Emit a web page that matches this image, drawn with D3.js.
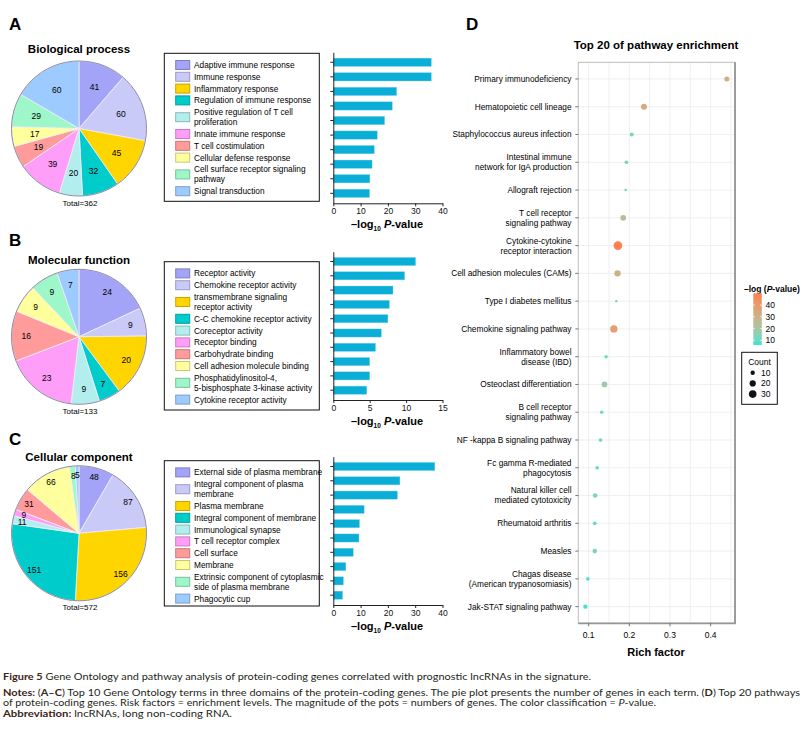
<!DOCTYPE html>
<html lang="en">
<head>
<meta charset="UTF-8">
<title>Figure 5 - GO and pathway enrichment</title>
<script src="https://d3js.org/d3.v7.min.js"></script>
<style>
  body { margin: 0; background: #fff; }
  svg { font-family: "Liberation Sans", Arial, sans-serif; }
  .axis path, .axis line { stroke: #222; }
  .axis text { font-size: 8.5px; fill: #111; }
</style>
</head>
<body>
<svg id="fig" width="807" height="732"></svg>
<script>
// ---- GO data: legend order = bar order = pie order (clockwise from 12 o'clock)
const goColors = ["#a3a3f7", "#cacaf9", "#ffd500", "#00cccc", "#b3eeee",
                  "#ff9ef8", "#ff9b9b", "#ffff9e", "#9ef7c8", "#9ecbff"];

const bpTerms = ["Adaptive immune response", "Immune response", "Inflammatory response",
  "Regulation of immune response", "Positive regulation of T cell\nproliferation",
  "Innate immune response", "T cell costimulation", "Cellular defense response",
  "Cell surface receptor signaling\npathway", "Signal transduction"];
const bpCounts = [41, 60, 45, 32, 20, 39, 19, 17, 29, 60];
const bpLogP = [35.9, 35.9, 23.2, 21.6, 18.8, 16.1, 15.0, 14.2, 13.4, 13.3];

const mfTerms = ["Receptor activity", "Chemokine receptor activity",
  "transmembrane signaling\nreceptor activity", "C-C chemokine receptor activity",
  "Coreceptor activity", "Receptor binding", "Carbohydrate binding",
  "Cell adhesion molecule binding", "Phosphatidylinositol-4,\n5-bisphosphate 3-kinase activity",
  "Cytokine receptor activity"];
const mfCounts = [24, 9, 20, 7, 9, 23, 16, 9, 9, 7];
const mfLogP = [11.3, 9.8, 8.2, 7.7, 7.5, 6.6, 5.8, 5.0, 5.0, 4.6];

const ccTerms = ["External side of plasma membrane", "Integral component of plasma\nmembrane",
  "Plasma membrane", "Integral component of membrane", "Immunological synapse",
  "T cell receptor complex", "Cell surface", "Membrane",
  "Extrinsic component of cytoplasmic\nside of plasma membrane", "Phagocytic cup"];
const ccCounts = [48, 87, 156, 151, 11, 9, 31, 66, 8, 5];
const ccLogP = [37.2, 24.4, 23.5, 11.3, 9.6, 9.4, 7.3, 4.6, 3.7, 3.4];

// ---- KEGG data
const pathways = ["Primary immunodeficiency", "Hematopoietic cell lineage",
  "Staphylococcus aureus infection", "Intestinal immune\nnetwork for IgA production",
  "Allograft rejection", "T cell receptor\nsignaling pathway",
  "Cytokine-cytokine\nreceptor interaction", "Cell adhesion molecules (CAMs)",
  "Type I diabetes mellitus", "Chemokine signaling pathway",
  "Inflammatory bowel\ndisease (IBD)", "Osteoclast differentiation",
  "B cell receptor\nsignaling pathway", "NF -kappa B signaling pathway",
  "Fc gamma R-mediated\nphagocytosis", "Natural killer cell\nmediated cytotoxicity",
  "Rheumatoid arthritis", "Measles", "Chagas disease\n(American trypanosomiasis)",
  "Jak-STAT signaling pathway"];
const richFactor = [0.440, 0.236, 0.206, 0.193, 0.191, 0.185, 0.172, 0.171, 0.168, 0.162,
                    0.143, 0.139, 0.132, 0.129, 0.121, 0.116, 0.115, 0.115, 0.098, 0.092];
const geneCount = [13, 19, 8, 7, 3, 17, 39, 21, 3, 28, 6, 17, 6, 7, 7, 11, 7, 11, 7, 10];
const negLogP = [32, 33, 13, 11, 9, 25, 50, 30, 8, 38, 10, 18, 9, 10, 9, 12, 9, 13, 8, 7];

const richTicks = [0.1, 0.2, 0.3, 0.4];
const colorTicks = [10, 20, 30, 40];
const countTicks = [10, 20, 30];

const svg = d3.select("#fig");
svg.append("rect").attr("width", 807).attr("height", 732).attr("fill", "#fff");

// ---------- GO panels ----------
function goPanel(o) {
  const g = svg.append("g");
  // panel letter + title
  g.append("text").attr("x", 9).attr("y", o.letterY).text(o.letter)
    .attr("font-size", 17).attr("font-weight", "bold");
  g.append("text").attr("x", 79).attr("y", o.titleY).attr("text-anchor", "middle")
    .attr("font-size", 11.5).attr("font-weight", "bold").text(o.title);

  // pie
  const r = 67.5;
  const pie = d3.pie().sort(null)(o.counts);
  const arc = d3.arc().innerRadius(0).outerRadius(r);
  const lab = d3.arc().innerRadius(r * o.labR).outerRadius(r * o.labR);
  const pg = g.append("g").attr("transform", `translate(79,${o.cy})`);
  pg.selectAll("path").data(pie).join("path")
    .attr("d", arc).attr("fill", (d, i) => goColors[i])
    .attr("stroke", "#f2eef8").attr("stroke-width", 0.8);
  pg.append("circle").attr("r", r).attr("fill", "none")
    .attr("stroke", "#8d8da6").attr("stroke-width", 1);
  pg.selectAll("text").data(pie).join("text")
    .attr("transform", d => `translate(${lab.centroid(d)})`)
    .attr("text-anchor", "middle").attr("dy", "0.35em")
    .attr("font-size", 8.5).text(d => d.data);
  g.append("text").attr("x", 80).attr("y", o.cy + r + 9.5).attr("text-anchor", "middle")
    .attr("font-size", 8).text("Total=" + d3.sum(o.counts));

  // legend
  g.append("rect").attr("x", 164.3).attr("y", o.legTop).attr("width", 155)
    .attr("height", o.legH).attr("fill", "#fff").attr("stroke", "#111").attr("stroke-width", 1);
  let cur = o.legTop + 11.7;
  o.terms.forEach((t, i) => {
    const lines = t.split("\n");
    const mid = cur + (lines.length - 1) * 5;
    g.append("rect").attr("x", 175.7).attr("y", mid - 4.5).attr("width", 14).attr("height", 9)
      .attr("fill", goColors[i]).attr("stroke", d3.color(goColors[i]).darker(0.7))
      .attr("stroke-width", 1);
    const tx = g.append("text").attr("x", 194).attr("font-size", 8.3);
    lines.forEach((l, k) => tx.append("tspan").attr("x", 194)
      .attr("y", cur + k * 10).attr("dy", "0.35em").text(l));
    cur += (lines.length - 1) * 10 + 11.8;
  });

  // bars
  const x = d3.scaleLinear().domain([0, o.xMax]).range([333.3, 442.5]);
  const y = d3.scaleBand().domain(d3.range(o.vals.length))
    .range([o.barTop, o.barBot]).paddingInner(0.43).paddingOuter(0.4);
  g.selectAll(".bar" + o.letter).data(o.vals).join("rect")
    .attr("x", x(0)).attr("y", (d, i) => y(i)).attr("width", d => x(d) - x(0))
    .attr("height", y.bandwidth()).attr("fill", "#0aaed6")
    .attr("stroke", "#7fd4ea").attr("stroke-width", 0.4);
  g.append("g").attr("class", "axis").attr("transform", `translate(${x(0)},0)`)
    .call(d3.axisLeft(y).tickSize(3).tickSizeOuter(0).tickFormat(""));
  g.append("g").attr("class", "axis").attr("transform", `translate(0,${o.barBot})`)
    .call(d3.axisBottom(x).tickValues(o.xTicks).tickSize(3).tickSizeOuter(0).tickPadding(2));
  const xl = g.append("text").attr("x", 387).attr("y", o.barBot + 25)
    .attr("text-anchor", "middle").attr("font-size", 11).attr("font-weight", "bold");
  xl.append("tspan").text("\u2013log");
  xl.append("tspan").attr("font-size", 6.5).attr("dy", 3).text("10");
  xl.append("tspan").attr("dy", -3).text(" ");
  xl.append("tspan").attr("font-style", "italic").text("P");
  xl.append("tspan").text("-value");
}

goPanel({ letter: "A", letterY: 30, title: "Biological process", titleY: 53.3, cy: 128.5,
  counts: bpCounts, terms: bpTerms, vals: bpLogP, labR: 0.66,
  legTop: 53.3, legH: 148, barTop: 52.3, barBot: 203.3, xMax: 40, xTicks: [0, 10, 20, 30, 40] });
goPanel({ letter: "B", letterY: 245.5, title: "Molecular function", titleY: 264, cy: 336.8,
  counts: mfCounts, terms: mfTerms, vals: mfLogP, labR: 0.78,
  legTop: 261.7, legH: 148.3, barTop: 251.7, barBot: 400, xMax: 15, xTicks: [0, 5, 10, 15] });
goPanel({ letter: "C", letterY: 445, title: "Cellular component", titleY: 460.5, cy: 533.3,
  counts: ccCounts, terms: ccTerms, vals: ccLogP, labR: 0.86,
  legTop: 460.7, legH: 145.3, barTop: 456.7, barBot: 605, xMax: 40, xTicks: [0, 10, 20, 30, 40] });

// ---------- Panel D: KEGG bubble plot ----------
const D = svg.append("g");
D.append("text").attr("x", 466).attr("y", 30).attr("font-size", 17)
  .attr("font-weight", "bold").text("D");
D.append("text").attr("x", 656).attr("y", 49).attr("text-anchor", "middle")
  .attr("font-size", 11.5).attr("font-weight", "bold").text("Top 20 of pathway enrichment");

const px0 = 578.3, px1 = 735, py0 = 62.3, py1 = 623.3;
const xr = d3.scaleLinear().domain([0.0745, 0.46]).range([px0, px1]);
const yr = d3.scalePoint().domain(pathways).range([py0, py1]).padding(0.6);
const rr = d3.scaleSqrt().domain([0, 30]).range([0, 3.8]);
const col = d3.scaleLinear().domain([6, 50]).range(["#40E0D0", "#FF7F50"])
  .interpolate(d3.interpolateLab);

// grid
const minor = d3.range(0.1, 0.46, 0.05);
D.selectAll(".vg").data(minor).join("line")
  .attr("x1", d => xr(d)).attr("x2", d => xr(d)).attr("y1", py0).attr("y2", py1)
  .attr("stroke", "#ebebeb").attr("stroke-width", 0.8);
D.selectAll(".hg").data(pathways).join("line")
  .attr("x1", px0).attr("x2", px1).attr("y1", d => yr(d)).attr("y2", d => yr(d))
  .attr("stroke", "#ebebeb").attr("stroke-width", 0.8);
D.append("rect").attr("x", px0).attr("y", py0).attr("width", px1 - px0).attr("height", py1 - py0)
  .attr("fill", "none").attr("stroke", "#bdbdbd").attr("stroke-width", 1);
D.append("path").attr("d", `M${px1},${py0}V${py1}H${px0}`).attr("fill", "none")
  .attr("stroke", "#959595").attr("stroke-width", 1.8);

// y labels & ticks
pathways.forEach(p => {
  const yy = yr(p);
  D.append("line").attr("x1", px0 - 3).attr("x2", px0).attr("y1", yy).attr("y2", yy)
    .attr("stroke", "#555").attr("stroke-width", 0.8);
  const lines = p.split("\n");
  const t = D.append("text").attr("text-anchor", "end").attr("font-size", 8.3);
  lines.forEach((l, k) => t.append("tspan").attr("x", 571.5)
    .attr("y", yy + (k - (lines.length - 1) / 2) * 10).attr("dy", "0.35em").text(l));
});
// x ticks
richTicks.forEach(v => {
  D.append("line").attr("x1", xr(v)).attr("x2", xr(v)).attr("y1", py1).attr("y2", py1 + 3)
    .attr("stroke", "#555").attr("stroke-width", 0.8);
  D.append("text").attr("x", xr(v)).attr("y", 635).attr("dy", "0.35em")
    .attr("text-anchor", "middle").attr("font-size", 8.5).text(v.toFixed(1));
});
D.append("text").attr("x", 656).attr("y", 655.5).attr("text-anchor", "middle")
  .attr("font-size", 11).attr("font-weight", "bold").text("Rich factor");

// points
D.selectAll(".pt").data(pathways).join("circle")
  .attr("cx", (d, i) => xr(richFactor[i])).attr("cy", d => yr(d))
  .attr("r", (d, i) => rr(geneCount[i])).attr("fill", (d, i) => col(negLogP[i]));

// colour legend
const ct = D.append("text").attr("x", 744).attr("y", 291.5).attr("font-size", 8.5)
  .attr("font-weight", "bold");
ct.append("tspan").text("\u2013log (");
ct.append("tspan").attr("font-style", "italic").text("P");
ct.append("tspan").text("-value)");
const cy = d3.scaleLinear().domain([6, 50]).range([345, 293.3]);
const grad = svg.append("defs").append("linearGradient").attr("id", "cbar")
  .attr("x1", 0).attr("x2", 0).attr("y1", 1).attr("y2", 0);
d3.range(0, 1.0001, 0.1).forEach(f => grad.append("stop")
  .attr("offset", f).attr("stop-color", col(6 + f * 44)));
D.append("rect").attr("x", 753.3).attr("y", 293.3).attr("width", 8.5).attr("height", 345 - 293.3)
  .attr("fill", "url(#cbar)");
colorTicks.forEach(v => {
  [753.3, 760.1].forEach(xx => D.append("line").attr("x1", xx).attr("x2", xx + 1.7)
    .attr("y1", cy(v)).attr("y2", cy(v)).attr("stroke", "#fff").attr("stroke-width", 0.7));
  D.append("text").attr("x", 765.5).attr("y", cy(v)).attr("dy", "0.35em")
    .attr("font-size", 8.5).text(v);
});

// size legend
D.append("rect").attr("x", 741.7).attr("y", 352.3).attr("width", 35.6).attr("height", 52)
  .attr("fill", "#fff").attr("stroke", "#111").attr("stroke-width", 1);
D.append("text").attr("x", 759.5).attr("y", 362.3).attr("dy", "0.35em")
  .attr("text-anchor", "middle").attr("font-size", 8.5).text("Count");
countTicks.forEach((v, i) => {
  const yy = 372.7 + i * 10.7;
  D.append("circle").attr("cx", 752.7).attr("cy", yy).attr("r", rr(v)).attr("fill", "#111");
  D.append("text").attr("x", 761).attr("y", yy).attr("dy", "0.35em")
    .attr("font-size", 8.5).text(v);
});

// ---------- caption ----------
const capFont = "Lato, 'Open Sans', sans-serif";
const cap = svg.append("g").attr("font-family", capFont).attr("font-size", 10)
  .attr("fill", "#231f20");
function capLine(y, len, parts) {
  const t = cap.append("text").attr("x", 3).attr("y", y)
    .attr("textLength", len).attr("lengthAdjust", "spacingAndGlyphs");
  parts.forEach(p => {
    const s = t.append("tspan").text(p[0]);
    if (p[1] === "b") s.attr("font-weight", "bold").attr("fill", "#3a2416");
    if (p[1] === "i") s.attr("font-style", "italic");
  });
}
capLine(679.5, 588, [["Figure 5", "b"],
  [" Gene Ontology and pathway analysis of protein-coding genes correlated with prognostic lncRNAs in the signature."]]);
capLine(695.5, 797, [["Notes: ", "b"], ["("], ["A\u2013C", "b"],
  [") Top 10 Gene Ontology terms in three domains of the protein-coding genes. The pie plot presents the number of genes in each term. ("],
  ["D", "b"], [") Top 20 pathways"]]);
capLine(706, 653, [["of protein-coding genes. Risk factors = enrichment levels. The magnitude of the pots = numbers of genes. The color classification = "],
  ["P", "i"], ["-value."]]);
capLine(716.5, 229, [["Abbreviation: ", "b"], ["lncRNAs, long non-coding RNA."]]);
</script>
</body>
</html>
